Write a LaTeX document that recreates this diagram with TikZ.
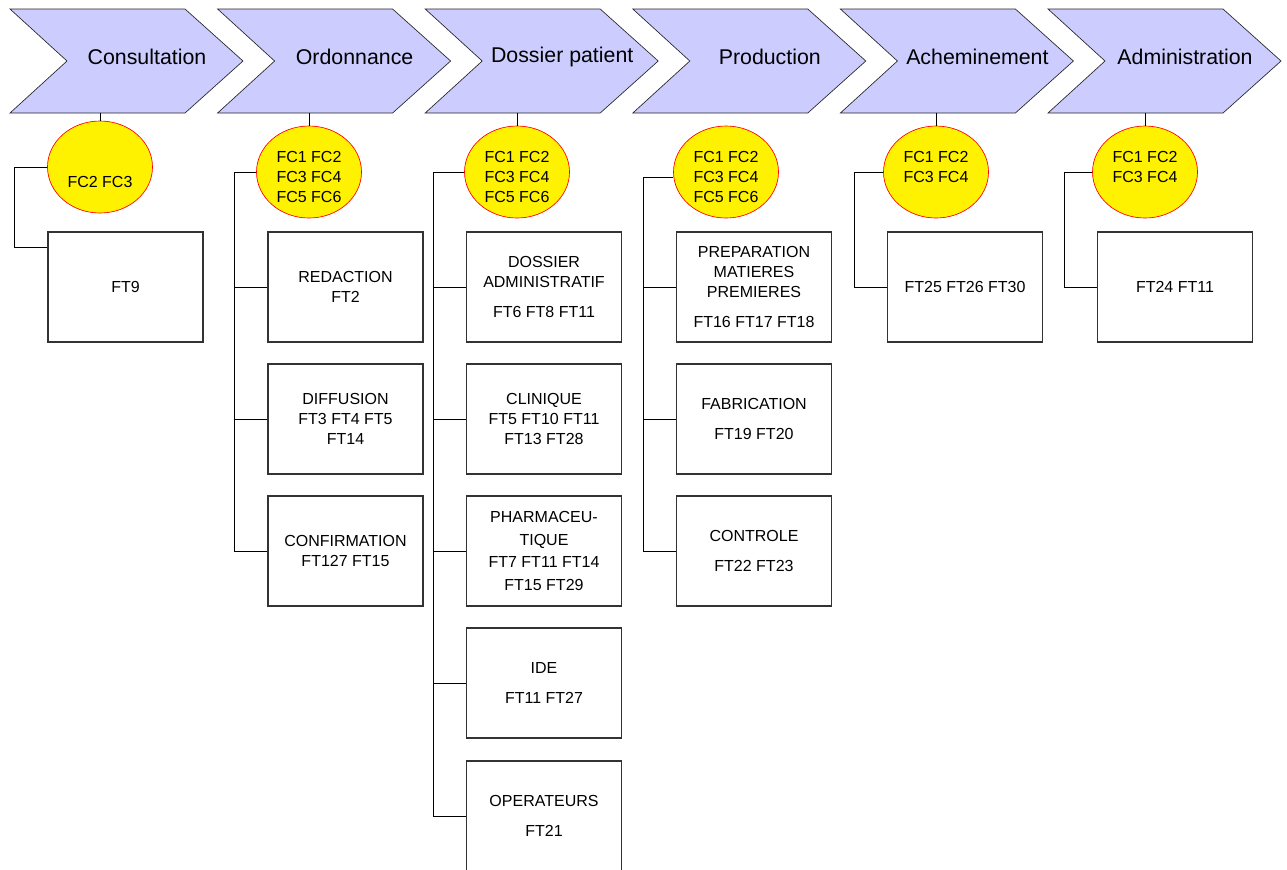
\documentclass[tikz,border=0pt]{standalone}
\usepackage{fontspec}
\setmainfont{Liberation Sans}
\usetikzlibrary{shapes.geometric}
\definecolor{phasefill}{RGB}{204,204,255}
\newcommand{\fcgap}{\rule{0pt}{16pt}}
\tikzset{
  chevron/.style={draw=black!85, line width=0.5pt, fill=phasefill},
  phase/.style={font=\fontsize{16}{19}\selectfont},
  fc/.style={ellipse, draw=red, fill=yellow, line width=0.5pt, minimum width=78.75pt, minimum height=69pt, inner sep=0pt, align=center, font=\fontsize{12}{15}\selectfont},
  ftbox/.style={rectangle, draw=black!80, line width=0.8pt, minimum width=116.25pt, minimum height=82.5pt, inner sep=0pt, align=center, font=\fontsize{12}{15}\selectfont},
  link/.style={draw=black, line width=0.6pt}
}

\begin{document}
\begin{tikzpicture}[x=0.75pt, y=-0.75pt]
\useasboundingbox (0,0) rectangle (1287,869);

% phases
\foreach \lbl [count=\i from 0] in {Consultation,Ordonnance,Dossier patient,Production,Acheminement,Administration} {
  \pgfmathsetmacro\lx{10+207.6*\i}
  \draw[chevron] (\lx,9) -- ++(175,0) -- ++(58,52) -- ++(-58,52) -- ++(-175,0) -- ++(57,-52) -- cycle;
  \node[phase] (ph\i) at (\lx+137,57) {\lbl};
  \coordinate (bot\i) at (\lx+88,113);
}

% fonctions FC
\node[fc] (fc0) at (100,167) {\fcgap\\FC2 FC3};
\node[fc] (fc1) at (309,172) {\fcgap FC1 FC2\\FC3 FC4\\FC5 FC6};
\node[fc] (fc2) at (517,172) {\fcgap FC1 FC2\\FC3 FC4\\FC5 FC6};
\node[fc] (fc3) at (726,172) {\fcgap FC1 FC2\\FC3 FC4\\FC5 FC6};
\node[fc] (fc4) at (936,172) {\fcgap FC1 FC2\\FC3 FC4\\\mbox{}};
\node[fc] (fc5) at (1145,172) {\fcgap FC1 FC2\\FC3 FC4\\\mbox{}};

% fonctions FT
\node[ftbox] (ft9) at (125.5,287) {FT9};

\node[ftbox] (redac) at (345.5,287) {REDACTION\\FT2};
\node[ftbox] (diffu) at (345.5,419) {DIFFUSION\\FT3 FT4 FT5\\FT14};
\node[ftbox] (confi) at (345.5,551) {CONFIRMATION\\FT127 FT15};

\node[ftbox] (admin) at (544,287) {DOSSIER\\ADMINISTRATIF\\[7pt]FT6 FT8 FT11};
\node[ftbox] (clini) at (544,419) {CLINIQUE\\FT5 FT10 FT11\\FT13 FT28};
\node[ftbox] (pharm) at (544,551) {PHARMACEU-\\[2pt]TIQUE\\[2pt]FT7 FT11 FT14\\[2pt]FT15 FT29};
\node[ftbox] (ide) at (544,683) {IDE\\[7pt]FT11 FT27};
\node[ftbox] (opera) at (544,816) {OPERATEURS\\[7pt]FT21};

\node[ftbox] (prepa) at (754,287) {PREPARATION\\MATIERES\\PREMIERES\\[8pt]FT16 FT17 FT18};
\node[ftbox] (fabri) at (754,419) {FABRICATION\\[8pt]FT19 FT20};
\node[ftbox] (contr) at (754,551) {CONTROLE\\[8pt]FT22 FT23};

\node[ftbox] (ache) at (965,287) {FT25 FT26 FT30};
\node[ftbox] (admi) at (1175,287) {FT24 FT11};

% liens
\foreach \c in {0,1,2,4,5}
  \draw[link] (fc\c.north) -- (fc\c.north |- bot\c);

\draw[link] (fc0.west) -| ([xshift=-24.75pt,yshift=-12pt]ft9.north west) -- ([yshift=-12pt]ft9.north west);

\draw[link] (fc1.west) -| ([xshift=-24.75pt]confi.west);
\foreach \bx in {redac,diffu,confi}
  \draw[link] (\bx.west) -- ++(-33,0);

\draw[link] (fc2.west) -| ([xshift=-24.75pt]opera.west);
\foreach \bx in {admin,clini,pharm,ide,opera}
  \draw[link] (\bx.west) -- ++(-33,0);

\draw[link] ([yshift=-3.75pt]fc3.west) -| ([xshift=-24.75pt]contr.west);
\foreach \bx in {prepa,fabri,contr}
  \draw[link] (\bx.west) -- ++(-33,0);

\draw[link] (fc4.west) -| ([xshift=-24.75pt]ache.west) -- (ache.west);
\draw[link] (fc5.west) -| ([xshift=-24.75pt]admi.west) -- (admi.west);

\end{tikzpicture}
\end{document}
